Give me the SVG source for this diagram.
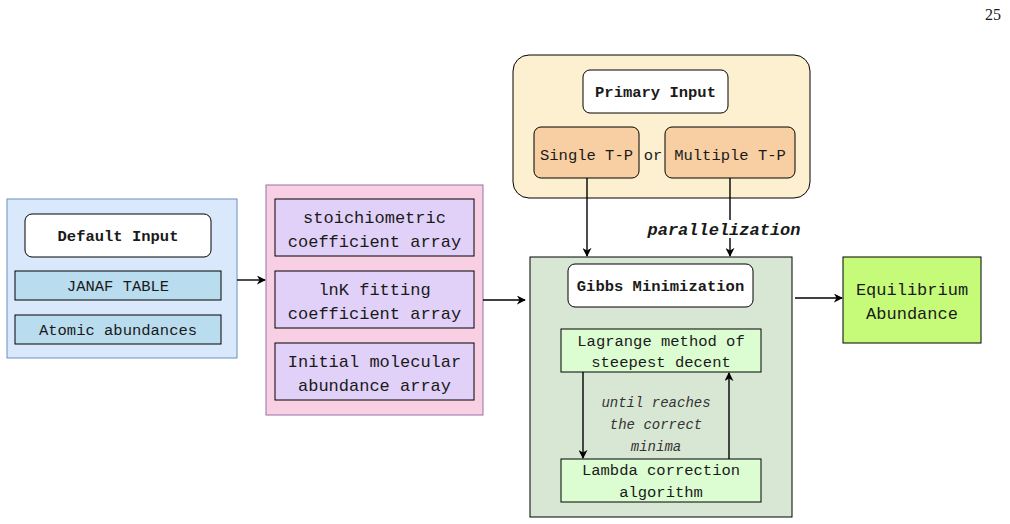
<svg xmlns="http://www.w3.org/2000/svg" width="1010" height="524" viewBox="0 0 1010 524">
<defs>
<marker id="ah" viewBox="0 0 10 10" refX="9" refY="5" markerWidth="9" markerHeight="9" markerUnits="userSpaceOnUse" orient="auto"><path d="M0,0 L10,5 L0,10 L3,5 z" fill="#000"/></marker>
<style>
text{font-family:"Liberation Mono","DejaVu Sans Mono",monospace;fill:#1a1a1a;text-anchor:middle}
.b{font-weight:bold;font-size:15.5px}
.m{font-size:15.5px}
.l{font-size:17px}
.i{font-style:italic;font-size:14px;fill:#333}
.c{stroke:#000;stroke-width:1.4;fill:none;marker-end:url(#ah)}
</style>
</defs>
<rect width="1010" height="524" fill="#fff"/>
<text x="993" y="20" style="font-family:'Liberation Serif',serif;font-size:16px">25</text>
<g id="default"><rect x="7" y="199" width="230" height="159" fill="#dae8fc" stroke="#6c8ebf"/>
<rect x="25" y="214" width="186" height="43" rx="7" fill="#fff" stroke="#000"/><text class="b" x="118" y="241">Default Input</text>
<rect x="15" y="271" width="206" height="29" fill="#b9dcee" stroke="#000"/><text class="m" x="118" y="291">JANAF TABLE</text>
<rect x="15" y="315" width="206" height="29" fill="#b9dcee" stroke="#000"/><text class="m" x="118" y="335">Atomic abundances</text></g>
<g id="arrays"><rect x="266" y="185" width="217" height="230" fill="#f8cfe3" stroke="#9673a6"/>
<rect x="275" y="199" width="199" height="57" fill="#e1d1f9" stroke="#000"/><text class="l" x="374.5" y="223">stoichiometric</text><text class="l" x="374.5" y="247">coefficient array</text>
<rect x="275" y="271" width="199" height="57" fill="#e1d1f9" stroke="#000"/><text class="l" x="374.5" y="295">lnK fitting</text><text class="l" x="374.5" y="319">coefficient array</text>
<rect x="275" y="343" width="199" height="57" fill="#e1d1f9" stroke="#000"/><text class="l" x="374.5" y="367">Initial molecular</text><text class="l" x="374.5" y="391">abundance array</text></g>
<g id="primary"><rect x="513" y="55" width="297" height="143" rx="16" fill="#fcf0d1" stroke="#000"/>
<rect x="583" y="70" width="145" height="43" rx="7" fill="#fff" stroke="#000"/><text class="b" x="655.5" y="97">Primary Input</text>
<rect x="534" y="127" width="105" height="51" rx="7" fill="#f7cfa2" stroke="#000"/><text class="m" x="586.5" y="160">Single T-P</text>
<text class="m" x="653" y="160">or</text>
<rect x="665" y="127" width="130" height="51" rx="7" fill="#f7cfa2" stroke="#000"/><text class="m" x="730" y="160">Multiple T-P</text></g>
<g id="gibbs"><rect x="530" y="257" width="262" height="260" fill="#d8e6d4" stroke="#000"/>
<rect x="568" y="264" width="185" height="43" rx="7" fill="#fff" stroke="#000"/><text class="b" x="660.5" y="291">Gibbs Minimization</text>
<rect x="561" y="329" width="200" height="43" fill="#dcfdd2" stroke="#000"/><text class="m" x="661" y="346">Lagrange method of</text><text class="m" x="661" y="367">steepest decent</text>
<rect x="561" y="459" width="200" height="43" fill="#dcfdd2" stroke="#000"/><text class="m" x="661" y="475">Lambda correction</text><text class="m" x="661" y="497">algorithm</text>
<text class="i" x="656" y="407">until reaches</text><text class="i" x="656" y="429">the correct</text><text class="i" x="656" y="451">minima</text></g>
<g id="eq"><rect x="843" y="257" width="138" height="86" fill="#c6fb7a" stroke="#000"/><text class="l" x="912" y="295">Equilibrium</text><text class="l" x="912" y="319">Abundance</text></g>
<g id="connectors">
<line class="c" x1="237" y1="280" x2="265" y2="280"/>
<line class="c" x1="483" y1="300" x2="525" y2="300"/>
<line class="c" x1="795" y1="298" x2="842" y2="298"/>
<line class="c" x1="587" y1="178" x2="587" y2="256"/>
<line class="c" x1="730" y1="178" x2="730" y2="256"/>
<rect x="644" y="220" width="160" height="18" fill="#fff"/>
<text x="724" y="235" style="font-weight:bold;font-style:italic;font-size:17px">parallelization</text>
<line class="c" x1="583" y1="372" x2="583" y2="458"/>
<line class="c" x1="729" y1="459" x2="729" y2="373"/>
</g>
</svg>
